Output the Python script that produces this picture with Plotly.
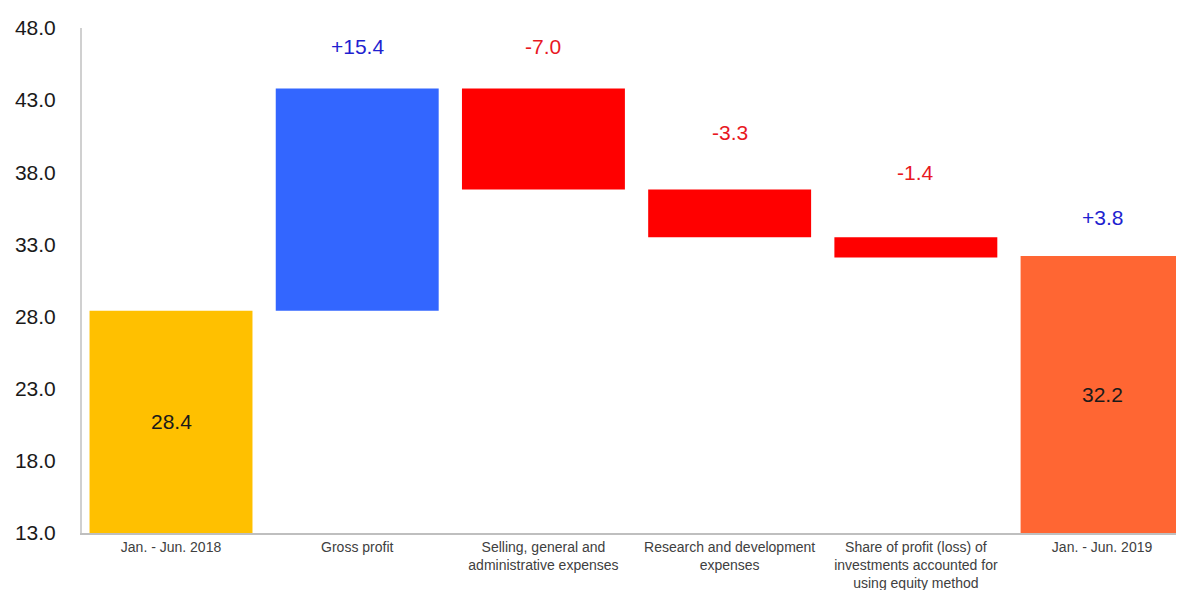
import plotly.graph_objects as go

categories = [
    "Jan. - Jun. 2018",
    "Gross profit",
    "Selling, general and<br>administrative expenses",
    "Research and development<br>expenses",
    "Share of profit (loss) of<br>investments accounted for<br>using equity method",
    "Jan. - Jun. 2019",
]
start_value = 28.4
deltas = [15.4, -7.0, -3.3, -1.4]
end_value = 32.2
end_change = 3.8

# styles
bar_colors = ["#FFC000", "#3366FF", "#FF0000", "#FF0000", "#FF0000", "#FF6633"]
label_shift_px = [42, 42, 57, 65, 38]
y_min, y_max = 13.0, 48.0

# compute bars
bases, heights = [0], [start_value]
level = start_value
for d in deltas:
    lo = min(level, level + d)
    bases.append(lo)
    heights.append(abs(d))
    level += d
bases.append(0)
heights.append(end_value)

fig = go.Figure()
fig.add_trace(go.Bar(
    x=list(range(len(categories))), y=heights, base=bases,
    marker=dict(color=bar_colors, line=dict(width=0)),
    hoverinfo="skip", showlegend=False,
))

annotations = []
# inner totals
for i, v in [(0, start_value), (len(categories) - 1, end_value)]:
    annotations.append(dict(x=i, y=(y_min + v) / 2, text=f"{v:.1f}", showarrow=False,
                            font=dict(size=21, color="#1a1a1a", family="Liberation Sans, Arial"),
                            xanchor="center", yanchor="middle"))
# change labels
changes = deltas + [end_change]
for k, d in enumerate(changes):
    i = k + 1
    top = bases[i] + heights[i]
    col = "#1F1FD0" if d > 0 else "#E8191F"
    annotations.append(dict(x=i, y=top, text=f"{d:+.1f}", showarrow=False,
                            yshift=label_shift_px[k], xanchor="center", yanchor="middle",
                            font=dict(size=21, color=col, family="Liberation Sans, Arial")))

fig.update_layout(
    width=1176, height=582,
    margin=dict(l=74, r=0, t=20, b=57),
    paper_bgcolor="white", plot_bgcolor="white",
    bargap=0.125,
    annotations=annotations,
    font=dict(family="Liberation Sans, Arial"),
    xaxis=dict(
        tickmode="array", tickvals=list(range(len(categories))), ticktext=categories,
        range=[-0.478, 5.44], showgrid=False, zeroline=False, automargin=False,
        showline=True, linecolor="#BFBFBF", linewidth=2, ticks="",
        tickfont=dict(size=14, color="#404040"),
    ),
    yaxis=dict(
        range=[y_min, y_max], tick0=13, dtick=5, tickformat=".1f", automargin=False,
        showgrid=False, zeroline=False, showline=True, linecolor="#D0D0D0", linewidth=2,
        ticks="", tickfont=dict(size=21, color="#1a1a1a"), ticklabelstandoff=20,
    ),
)

fig.write_html("out.html", config={"displayModeBar": False})
